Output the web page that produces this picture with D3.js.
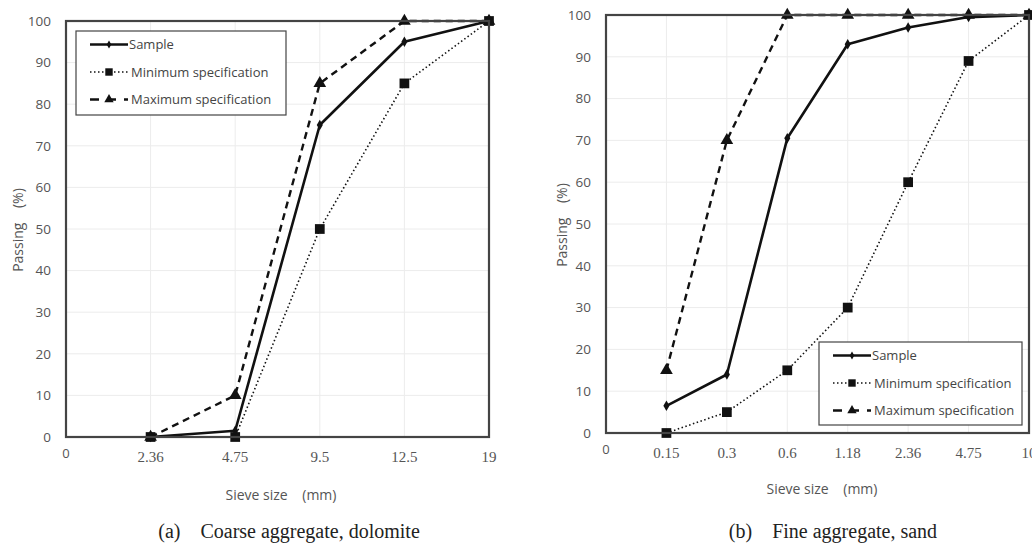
<!DOCTYPE html>
<meta charset="utf-8">
<style>
body, html {
    margin: 0;
    padding: 0;
    background: #fff;
    overflow: hidden;
}
.grid line { stroke: #ececec; stroke-width: 1px; }
.ytick { font-family: "Open Sans", "DejaVu Sans", sans-serif; font-size: 13.5px; fill: #555; }
.xtick { font-family: "Liberation Serif", serif; font-size: 15px; fill: #555; }
.xtick0 { font-family: "Open Sans", "DejaVu Sans", sans-serif; font-size: 13px; fill: #555; }
.title { font-family: "Open Sans", "DejaVu Sans", sans-serif; font-size: 14px; fill: #555; }
.caption { font-family: "Liberation Serif", serif; font-size: 20px; fill: #222; }
.legend text { font-family: "Open Sans", "DejaVu Sans", sans-serif; font-size: 13px; fill: #444; }
</style>
<svg width="1032" height="544"></svg>
<script src="https://cdn.jsdelivr.net/npm/d3@7"></script>
<script>

// (a) coarse aggregate
var coarseSizes = ["0", "2.36", "4.75", "9.5", "12.5", "19"];
var coarseSample = [null, 0, 1.5, 75, 95, 100];
var coarseMin = [null, 0, 0, 50, 85, 100];
var coarseMax = [null, 0, 10, 85, 100, 100];

// (b) fine aggregate
var fineSizes = ["0", "0.15", "0.3", "0.6", "1.18", "2.36", "4.75", "10"];
var fineSample = [null, 6.5, 14, 70.5, 93, 97, 99.5, 100];
var fineMin = [null, 0, 5, 15, 30, 60, 89, 100];
var fineMax = [null, 15, 70, 100, 100, 100, 100, 100];

var yTicks = [0, 10, 20, 30, 40, 50, 60, 70, 80, 90, 100];
var seriesNames = ["Sample", "Minimum specification", "Maximum specification"];

var svg = d3.select("svg");

var styles = [
    { dash: null, width: 2.6, symbol: d3.symbolDiamond, size: 32, lsize: 18 },
    { dash: "1.5,2.5", width: 1.6, symbol: d3.symbolSquare, size: 95, lsize: 55 },
    { dash: "7,5", width: 2.4, symbol: d3.symbolTriangle, size: 70, lsize: 38 }
];

function drawChart(opt) {
    var g = svg.append("g");

    var x = d3.scalePoint()
        .domain(opt.sizes)
        .range([opt.left, opt.right]);

    var y = d3.scaleLinear()
        .domain([0, 100])
        .range([opt.bottom, opt.top]);

    // grid
    var grid = g.append("g").attr("class", "grid");
    grid.selectAll(".hg").data(yTicks.slice(1, -1)).enter().append("line")
        .attr("x1", opt.left).attr("x2", opt.right)
        .attr("y1", function(d) { return y(d); })
        .attr("y2", function(d) { return y(d); });
    grid.selectAll(".vg").data(opt.sizes.slice(1, -1)).enter().append("line")
        .attr("x1", function(d) { return x(d); })
        .attr("x2", function(d) { return x(d); })
        .attr("y1", opt.top).attr("y2", opt.bottom);

    // y ticks
    g.selectAll(".ytick").data(yTicks).enter().append("text")
        .attr("class", "ytick")
        .attr("x", opt.left - 15)
        .attr("y", function(d) { return y(d); })
        .attr("dy", "0.35em")
        .attr("text-anchor", "end")
        .text(function(d) { return d; });

    // x ticks (first one "0" is sans, rest serif)
    g.selectAll(".xtick").data(opt.sizes).enter().append("text")
        .attr("class", function(d, i) { return i == 0 ? "xtick0" : "xtick"; })
        .attr("x", function(d) { return x(d); })
        .attr("y", function(d, i) { return opt.bottom + (i == 0 ? 21 : 25); })
        .attr("text-anchor", "middle")
        .text(function(d) { return d; });

    // series
    var line = d3.line()
        .defined(function(d) { return d.v != null; })
        .x(function(d) { return x(d.s); })
        .y(function(d) { return y(d.v); });

    var order = [1, 2, 0];
    order.forEach(function(i) {
        var pts = opt.sizes.map(function(s, j) { return { s: s, v: opt.series[i][j] }; });
        var st = styles[i];
        g.append("path")
            .datum(pts)
            .attr("d", line)
            .attr("fill", "none")
            .attr("stroke", "#111")
            .attr("stroke-width", st.width)
            .attr("stroke-dasharray", st.dash)
            .attr("stroke-linejoin", "round");
        g.selectAll(null).data(pts.filter(function(d) { return d.v != null; })).enter().append("path")
            .attr("transform", function(d) { return "translate(" + x(d.s) + "," + y(d.v) + ")"; })
            .attr("d", d3.symbol().type(st.symbol).size(st.size))
            .attr("fill", "#111");
    });

    // plot frame
    g.append("rect")
        .attr("x", opt.left).attr("y", opt.top)
        .attr("width", opt.right - opt.left)
        .attr("height", opt.bottom - opt.top)
        .attr("fill", "none")
        .attr("stroke", "#444")
        .attr("stroke-width", 2.2);

    // legend
    var lg = g.append("g").attr("class", "legend")
        .attr("transform", "translate(" + opt.legend[0] + "," + opt.legend[1] + ")");
    lg.append("rect")
        .attr("width", opt.legend[2]).attr("height", opt.legend[3])
        .attr("fill", "#fff")
        .attr("stroke", "#444")
        .attr("stroke-width", 1.2);
    seriesNames.forEach(function(name, i) {
        var st = styles[i];
        var ly = 13.5 + i * 27.5;
        lg.append("line")
            .attr("x1", 14).attr("x2", 52)
            .attr("y1", ly).attr("y2", ly)
            .attr("stroke", "#111")
            .attr("stroke-width", st.width)
            .attr("stroke-dasharray", i == 2 ? "9,8" : st.dash);
        lg.append("path")
            .attr("transform", "translate(33," + ly + ")")
            .attr("d", d3.symbol().type(st.symbol).size(st.lsize))
            .attr("fill", "#111");
        lg.append("text")
            .attr("x", i == 0 ? 53 : 55)
            .attr("y", ly)
            .attr("dy", "0.35em")
            .text(name);
    });

    // axis titles
    g.append("text")
        .attr("class", "title")
        .attr("transform", "translate(" + opt.ytitle[0] + "," + opt.ytitle[1] + ") rotate(-90)")
        .attr("text-anchor", "middle")
        .attr("dy", "0.35em")
        .attr("xml:space", "preserve")
        .text("Passing    (%)");
    g.append("text")
        .attr("class", "title")
        .attr("x", opt.xtitle[0]).attr("y", opt.xtitle[1])
        .attr("text-anchor", "middle")
        .attr("xml:space", "preserve")
        .text("Sieve size    (mm)");

    // caption
    g.append("text")
        .attr("class", "caption")
        .attr("x", opt.caption[0]).attr("y", opt.caption[1])
        .attr("text-anchor", "middle")
        .attr("xml:space", "preserve")
        .text(opt.captionText);
}

drawChart({
    sizes: coarseSizes,
    series: [coarseSample, coarseMin, coarseMax],
    left: 66, right: 489, top: 21, bottom: 437,
    legend: [76, 31, 210, 84],
    ytitle: [18, 230],
    xtitle: [281, 500],
    caption: [289, 538],
    captionText: "(a)    Coarse aggregate, dolomite"
});

drawChart({
    sizes: fineSizes,
    series: [fineSample, fineMin, fineMax],
    left: 606, right: 1029, top: 15, bottom: 433,
    legend: [819, 342, 203, 83],
    ytitle: [562, 225],
    xtitle: [822, 494],
    caption: [833, 538],
    captionText: "(b)    Fine aggregate, sand"
});

</script>
